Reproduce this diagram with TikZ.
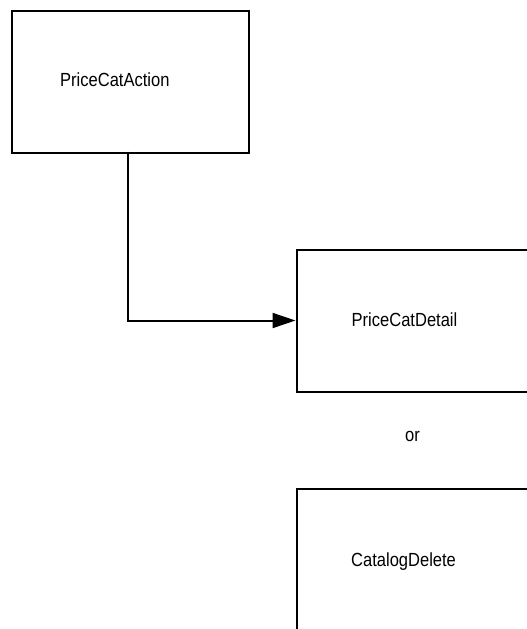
\documentclass[tikz,border=0pt]{standalone}
\usepackage{fontspec}
\usetikzlibrary{arrows.meta}
\newfontfamily\labfont[FakeStretch=0.87]{Liberation Sans}
\begin{document}
\begin{tikzpicture}[x=1pt,y=-1pt,
  box/.style={draw=black, line width=2pt, rectangle, inner sep=0pt, anchor=north west, minimum width=237.5pt, minimum height=142pt},
  lab/.style={inner sep=0pt, anchor=base west, font=\labfont\fontsize{19}{22}\selectfont},
  conn/.style={draw=black, line width=2pt, -{Triangle[length=23pt,width=15pt]}}]
\clip (0,0) rectangle (527,629);
\fill[white] (0,0) rectangle (527,629);
\node[box] (action) at (10.5,9.5) {};
\node[box] (detail) at (295.5,248.5) {};
\node[box] (delete) at (295.5,487.5) {};
\node[lab] (actiontext) at (60,86.7) {PriceCatAction};
\node[lab] (detailtext) at (351.5,326.5) {PriceCatDetail};
\node[lab] (deletetext) at (351,566) {CatalogDelete};
\node[lab] (ortext) at (405,441.5) {or};
\coordinate (start) at (128.3,151.5);
\draw[conn] (start) |- (detail.west);
\end{tikzpicture}
\end{document}
